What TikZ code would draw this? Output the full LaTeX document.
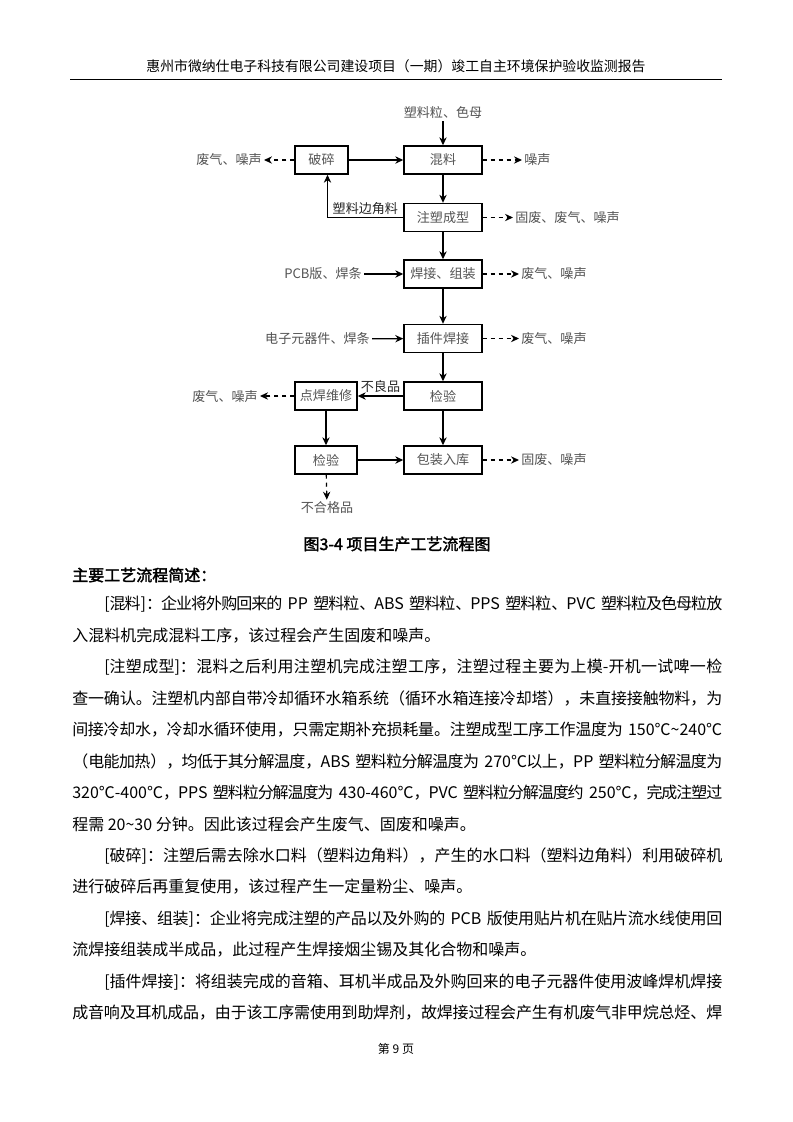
\documentclass[tikz,border=0pt]{standalone}
\usepackage{fontspec}
\setmainfont{Noto Sans CJK SC}
\newfontfamily\boldcjk{Noto Sans CJK SC}[FakeBold=2]
\usepackage{xcolor}
\usetikzlibrary{arrows.meta,positioning}
\definecolor{labelgray}{gray}{0.33}
% one justified line of body text
\newcommand{\jline}[1]{\noindent\XeTeXlinebreaklocale "zh"\XeTeXlinebreakskip=0pt plus 4pt minus 1pt\relax
  \leftskip=0pt\rightskip=0pt\parfillskip=0pt\tolerance=10000\hbadness=10000 #1\par}

\begin{document}
\begin{tikzpicture}[
    x=0.75pt, y=-0.75pt,
    font=\fontsize{9.8}{12}\selectfont,
    proc/.style={
        draw=black,
        line width=1.1pt,
        minimum width=58.5pt,
        minimum height=21pt,
        inner sep=1pt,
        text=labelgray
    },
    procs/.style={proc, minimum width=46.5pt},
    lbl/.style={text=labelgray, inner sep=1.5pt},
    arr/.style={-{Stealth[length=6pt,width=5.5pt]}, line width=0.9pt},
    darr/.style={arr, dash pattern=on 3pt off 3pt},
    bodyline/.style={anchor=west, inner sep=0pt, text width=487.5pt, font=\fontsize{12}{15}\selectfont},
    bodytext/.style={anchor=west, inner sep=0pt, font=\fontsize{12}{15}\selectfont}
]
\fill[white] (0,0) rectangle (793,1122);
\useasboundingbox (0,0) rectangle (793,1122);

% page header
\node[inner sep=0pt, font=\fontsize{10.4}{12}\selectfont] (header) at (396,66)
{惠州市微纳仕电子科技有限公司建设项目（一期）竣工自主环境保护验收监测报告};
\draw[line width=0.6pt] (70,79) -- (722,79);

% main column
\node[proc] (hunliao) at (443,160) {混料};
\node[proc] (zhusu) at (443,217.5) {注塑成型};
\node[proc] (hanjie) at (443,274) {焊接、组装};
\node[proc] (chajian) at (443,338.5) {插件焊接};
\node[proc] (jianyan) at (443,396) {检验};
\node[proc] (baozhuang) at (443,460) {包装入库};

% left column
\node[procs, minimum width=39.75pt] (posui) at (321.5,160) {破碎};
\node[procs] (dianhan) at (326,396) {点焊维修};
\node[procs] (jianyan2) at (326,460) {检验};

% inputs
\node[lbl] (yuanliao) at (443,113) {塑料粒、色母};
\node[lbl, anchor=east] (pcb) at (364,274) {PCB版、焊条};
\node[lbl, anchor=east] (dianzi) at (372,339) {电子元器件、焊条};

% outputs
\node[lbl, anchor=west] (out1) at (522,160) {噪声};
\node[lbl, anchor=west] (out2) at (513,217.5) {固废、废气、噪声};
\node[lbl, anchor=west] (out3) at (519,274) {废气、噪声};
\node[lbl, anchor=west] (out4) at (519,338.5) {废气、噪声};
\node[lbl, anchor=west] (out5) at (519,460) {固废、噪声};
\node[lbl, anchor=east] (out6) at (264,160) {废气、噪声};
\node[lbl, anchor=east] (out7) at (260,397) {废气、噪声};
\node[lbl] (buhege) at (327,508) {不合格品};

\draw[arr] (yuanliao) -- (hunliao);
\draw[arr] (hunliao) -- (zhusu);
\draw[arr] (zhusu) -- (hanjie);
\draw[arr] (hanjie) -- (chajian);
\draw[arr] (chajian) -- (jianyan);
\draw[arr] (jianyan) -- (baozhuang);
\draw[arr] (posui) -- (hunliao);
\draw[arr] (zhusu.west) -| node[pos=0.25, above=1pt, inner sep=1pt, text=black!85] {塑料边角料} ([xshift=4.5pt]posui.south);
\draw[arr] (pcb) -- (hanjie);
\draw[arr] (dianzi) -- (chajian);
\draw[arr] (jianyan) -- node[above=1pt, inner sep=1pt, text=black!85] {不良品} (dianhan);
\draw[arr] (dianhan) -- (jianyan2);
\draw[arr] (jianyan2) -- (baozhuang);

\draw[darr] (hunliao) -- (out1);
\draw[darr] (zhusu) -- (out2);
\draw[darr] (hanjie) -- (out3);
\draw[darr] (chajian) -- (out4);
\draw[darr] (baozhuang) -- (out5);
\draw[darr] (posui) -- (out6);
\draw[darr] (dianhan.west) -- (out7.east |- dianhan.west);
\draw[darr] (jianyan2) -- (buhege);

% caption
\node[inner sep=0pt, font=\fontsize{12}{14}\boldcjk] (caption) at (397,544) {图3-4 项目生产工艺流程图};

% body text
\node[bodytext, font=\fontsize{12}{15}\boldcjk] (heading) at (72,575) {主要工艺流程简述：};
\node[bodyline] (l1) at (72,604) {\jline{\hspace*{24pt}[混料]：企业将外购回来的 PP 塑料粒、ABS 塑料粒、PPS 塑料粒、PVC 塑料粒及色母粒放}};
\node[bodytext] (l2) at (72,635.5) {入混料机完成混料工序，该过程会产生固废和噪声。};
\node[bodyline] (l3) at (72,667) {\jline{\hspace*{24pt}[注塑成型]：混料之后利用注塑机完成注塑工序，注塑过程主要为上模-开机一试啤一检}};
\node[bodyline] (l4) at (72,698) {\jline{查一确认。注塑机内部自带冷却循环水箱系统（循环水箱连接冷却塔），未直接接触物料，为}};
\node[bodyline] (l5) at (72,730) {\jline{间接冷却水，冷却水循环使用，只需定期补充损耗量。注塑成型工序工作温度为 150℃\textasciitilde 240℃}};
\node[bodyline] (l6) at (72,761) {\jline{（电能加热），均低于其分解温度，ABS 塑料粒分解温度为 270℃以上，PP 塑料粒分解温度为}};
\node[bodyline] (l7) at (72,793) {\jline{320℃-400℃，PPS 塑料粒分解温度为 430-460℃，PVC 塑料粒分解温度约 250℃，完成注塑过}};
\node[bodytext] (l8) at (72,824) {程需 20\textasciitilde 30 分钟。因此该过程会产生废气、固废和噪声。};
\node[bodyline] (l9) at (72,856) {\jline{\hspace*{24pt}[破碎]：注塑后需去除水口料（塑料边角料），产生的水口料（塑料边角料）利用破碎机}};
\node[bodytext] (l10) at (72,887) {进行破碎后再重复使用，该过程产生一定量粉尘、噪声。};
\node[bodyline] (l11) at (72,919) {\jline{\hspace*{24pt}[焊接、组装]：企业将完成注塑的产品以及外购的 PCB 版使用贴片机在贴片流水线使用回}};
\node[bodytext] (l12) at (72,950) {流焊接组装成半成品，此过程产生焊接烟尘锡及其化合物和噪声。};
\node[bodyline] (l13) at (72,982) {\jline{\hspace*{24pt}[插件焊接]：将组装完成的音箱、耳机半成品及外购回来的电子元器件使用波峰焊机焊接}};
\node[bodyline] (l14) at (72,1013) {\jline{成音响及耳机成品，由于该工序需使用到助焊剂，故焊接过程会产生有机废气非甲烷总烃、焊}};

% page footer
\node[inner sep=0pt, font=\fontsize{9}{11}\selectfont] (footer) at (396,1049) {第 9 页};
\end{tikzpicture}
\end{document}
